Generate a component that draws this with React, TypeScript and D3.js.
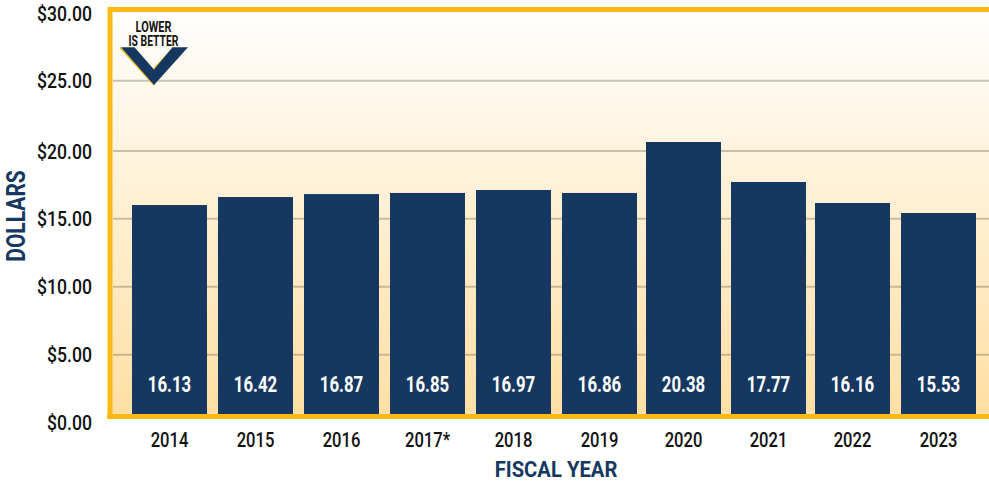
import React from "react";
import * as d3 from "d3";

const years = ["2014","2015","2016","2017*","2018","2019","2020","2021","2022","2023"];
const labels = ["16.13","16.42","16.87","16.85","16.97","16.86","20.38","17.77","16.16","15.53"];
const heights = [16.01,16.6,16.82,16.9,17.12,16.9,20.64,17.71,16.16,15.42];
const barLefts = [132,218,304,390,476,562,646,731,815,901];
const ticks = [0,5,10,15,20,25,30];

const W = 989, H = 482;
const NAVY = "#163860", GOLD = "#fdb913";
const FONT = "Roboto, sans-serif";

function T({ x, y, sx, anchor = "middle", ...rest }: any) {
  return <text transform={`translate(${x},${y}) scale(${sx},1)`} textAnchor={anchor} {...rest} />;
}

export default function App() {
  const y = d3.scaleLinear().domain(ticks).range([422.7,354.7,286.7,218.7,151,80.7,13.5]);
  const barW = 75;
  const plotB = 414;
  return (
    <svg width={W} height={H} style={{ position: "absolute", left: 0, top: 0, background: "#fff" }} fontFamily={FONT}>
      <defs>
        <linearGradient id="bg" x1="0" y1="0" x2="0" y2="1">
          <stop offset="0" stopColor="#ffffff" />
          <stop offset="1" stopColor="#ffdfa3" />
        </linearGradient>
      </defs>
      <rect x={110} y={9.5} width={879} height={407} fill="url(#bg)" />
      {ticks.slice(1, -1).map(t => (
        <line key={t} x1={113} x2={989} y1={y(t)} y2={y(t)} stroke="#7a6a50" strokeOpacity={0.38} strokeWidth={2} />
      ))}
      {heights.map((v, i) => (
        <rect key={i} x={barLefts[i]} y={y(v)} width={barW} height={plotB - y(v)} fill={NAVY} />
      ))}
      {labels.map((l, i) => (
        <T key={i} x={barLefts[i] + barW / 2} y={392} sx={0.78} fill="#fff" fontSize={21.5} fontWeight={700}>{l}</T>
      ))}
      <path d="M110 9.5H989M110 7V419M107 416.5H989" fill="none" stroke={GOLD} strokeWidth={5} />
      {ticks.map(t => (
        <T key={t} x={92} y={y(t) + 7.5} sx={0.84} anchor="end" fill="#111" fontSize={21} fontWeight={500}>{d3.format("$.2f")(t)}</T>
      ))}
      {years.map((l, i) => (
        <T key={i} x={barLefts[i] + barW / 2} y={447} sx={0.79} fill="#111" fontSize={21} fontWeight={500}>{l}</T>
      ))}
      <T x={556} y={476.5} sx={0.92} fill={NAVY} fontSize={22} fontWeight={700}>FISCAL YEAR</T>
      <text transform="translate(25,216) rotate(-90) scale(0.84,1)" textAnchor="middle" fill={NAVY} fontSize={25} fontWeight={700}>DOLLARS</text>
      <T x={153.5} y={32} sx={0.78} fill="#111" fontSize={14} fontWeight={700}>LOWER</T>
      <T x={153.5} y={46} sx={0.74} fill="#111" fontSize={14} fontWeight={700}>IS BETTER</T>
      <path d="M120 47.5L154 85" fill="none" stroke={GOLD} strokeWidth={1.6} />
      <path d="M154 68.5L174 47.5" fill="none" stroke={GOLD} strokeWidth={1.6} />
      <path d="M121 47.3H188L154 85L121 47.3ZM154 69.5L134.5 47.3H172.5Z" fill={NAVY} fillRule="evenodd" />
    </svg>
  );
}
